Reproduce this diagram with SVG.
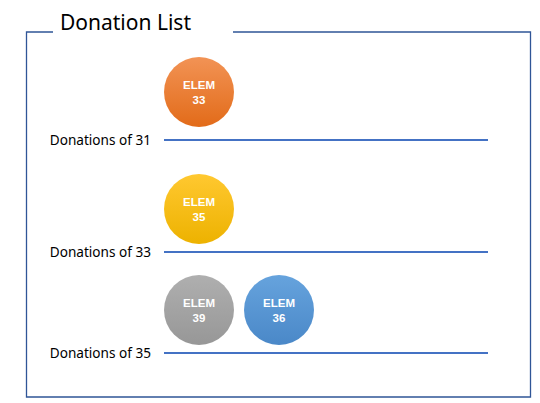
<svg xmlns="http://www.w3.org/2000/svg" width="540" height="403" viewBox="0 0 540 403">
<style>
.frame{fill:none;stroke:#2F5597;stroke-width:1.3}
.line{stroke:#4472C4;stroke-width:2}
.lbl{font-family:"Noto Sans","Liberation Sans",sans-serif;font-size:13.6px;fill:#000;text-anchor:end}
.title{font-family:"Noto Sans","Liberation Sans",sans-serif;font-size:21px;fill:#000}
.ct{font-family:"Liberation Sans",Arial,sans-serif;font-size:11.5px;font-weight:bold;fill:#fff;text-anchor:middle}
</style>
<defs>
<linearGradient id="gO" x1="0" y1="0" x2="0" y2="1"><stop offset="0" stop-color="#F29355"/><stop offset="1" stop-color="#E26B19"/></linearGradient>
<linearGradient id="gY" x1="0" y1="0" x2="0" y2="1"><stop offset="0" stop-color="#FFC830"/><stop offset="1" stop-color="#EDB200"/></linearGradient>
<linearGradient id="gG" x1="0" y1="0" x2="0" y2="1"><stop offset="0" stop-color="#AFAFAF"/><stop offset="1" stop-color="#979797"/></linearGradient>
<linearGradient id="gB" x1="0" y1="0" x2="0" y2="1"><stop offset="0" stop-color="#66A3DD"/><stop offset="1" stop-color="#4A88C8"/></linearGradient>
</defs>
<path class="frame" d="M53,32 H26.5 V397 H530.5 V32 H233"/>
<text class="title" x="60" y="30">Donation List</text>
<g id="connectors">
<line class="line" x1="164" y1="140" x2="488" y2="140"/>
<line class="line" x1="164" y1="252" x2="488" y2="252"/>
<line class="line" x1="164" y1="353" x2="488" y2="353"/>
</g>
<g id="label31"><text class="lbl" x="151" y="145">Donations of 31</text></g>
<g id="label33"><text class="lbl" x="151" y="257">Donations of 33</text></g>
<g id="label35"><text class="lbl" x="151" y="358">Donations of 35</text></g>
<g id="elem33"><circle cx="199" cy="92" r="35" fill="url(#gO)"/><text class="ct" x="199" y="89">ELEM</text><text class="ct" x="199" y="103.5">33</text></g>
<g id="elem35"><circle cx="199" cy="209" r="35" fill="url(#gY)"/><text class="ct" x="199" y="206">ELEM</text><text class="ct" x="199" y="220.5">35</text></g>
<g id="elem39"><circle cx="199" cy="310" r="35" fill="url(#gG)"/><text class="ct" x="199" y="307">ELEM</text><text class="ct" x="199" y="321.5">39</text></g>
<g id="elem36"><circle cx="279" cy="310" r="35" fill="url(#gB)"/><text class="ct" x="279" y="307">ELEM</text><text class="ct" x="279" y="321.5">36</text></g>
</svg>
